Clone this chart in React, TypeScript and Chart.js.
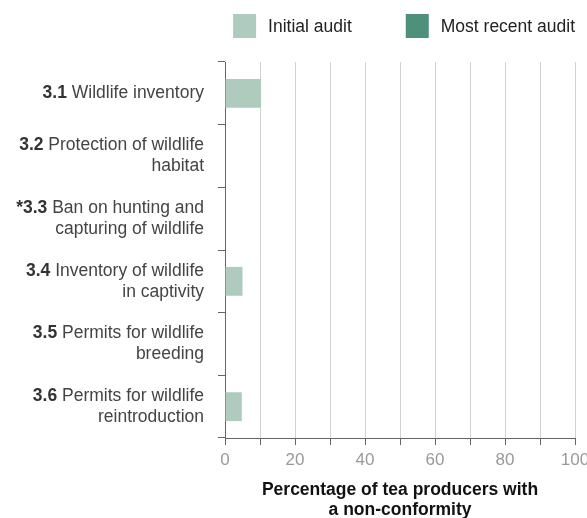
import { useEffect, useRef } from 'react';
import { Chart, registerables } from 'chart.js';

Chart.register(...registerables);

// ---- Data ----
const codes = ['3.1', '3.2', '*3.3', '3.4', '3.5', '3.6'];
const labelLines = [
  ['Wildlife inventory'],
  ['Protection of wildlife', 'habitat'],
  ['Ban on hunting and', 'capturing of wildlife'],
  ['Inventory of wildlife', 'in captivity'],
  ['Permits for wildlife', 'breeding'],
  ['Permits for wildlife', 'reintroduction'],
];
const initialAudit = [10.3, 0, 0, 5.0, 0, 4.8];
const recentAudit: (number | null)[] = [null, null, null, null, null, null];
const seriesNames = ['Initial audit', 'Most recent audit'];
const seriesColors = ['#aecbbe', '#4d917a'];
const xMin = 0;
const xMax = 100;
const xStep = 10;
const xLabelEvery = 20;
const xTitle = ['Percentage of tea producers with', 'a non-conformity'];

const FAMILY = "'Liberation Sans', Arial, sans-serif";

const yLabelPlugin = {
  id: 'yLabels',
  afterDraw(chart: any) {
    const { ctx } = chart;
    const y = chart.scales.y;
    const right = y.right - 7 - 14;
    const size = 17.5;
    const lh = 21;
    ctx.save();
    ctx.textBaseline = 'middle';
    ctx.textAlign = 'left';
    codes.forEach((code, i) => {
      const lines = labelLines[i];
      const center = y.getPixelForValue(i);
      const top = center - ((lines.length - 1) * lh) / 2;
      lines.forEach((line, j) => {
        const ly = top + j * lh;
        ctx.font = `normal ${size}px ${FAMILY}`;
        const wr = ctx.measureText(line).width;
        if (j === 0) {
          const sp = ctx.measureText(' ').width;
          ctx.font = `bold ${size}px ${FAMILY}`;
          const wb = ctx.measureText(code).width;
          const start = right - wr - sp - wb;
          ctx.fillStyle = '#333333';
          ctx.fillText(code, start, ly);
          ctx.font = `normal ${size}px ${FAMILY}`;
          ctx.fillStyle = '#444444';
          ctx.fillText(line, start + wb + sp, ly);
        } else {
          ctx.fillStyle = '#444444';
          ctx.fillText(line, right - wr, ly);
        }
      });
    });
    ctx.restore();
  },
};

const legendPlugin = {
  id: 'customLegend',
  afterDraw(chart: any) {
    const { ctx, chartArea } = chart;
    const size = 17.5;
    const boxW = 23;
    const boxH = 24;
    const gapText = 12;
    const gapItems = 54;
    const boxTop = 14;
    ctx.save();
    ctx.font = `normal ${size}px ${FAMILY}`;
    ctx.textBaseline = 'middle';
    ctx.textAlign = 'left';
    const widths = seriesNames.map((n) => boxW + gapText + ctx.measureText(n).width);
    let x = chartArea.right - widths.reduce((a, b) => a + b, 0) - gapItems * (widths.length - 1);
    seriesNames.forEach((name, i) => {
      ctx.fillStyle = seriesColors[i];
      ctx.fillRect(x, boxTop, boxW, boxH);
      ctx.fillStyle = '#222222';
      ctx.fillText(name, x + boxW + gapText, boxTop + boxH / 2 + 1);
      x += widths[i] + gapItems;
    });
    ctx.restore();
  },
};

export default function App() {
  const ref = useRef<HTMLCanvasElement | null>(null);

  useEffect(() => {
    document.body.style.overflow = 'hidden';
    if (!ref.current) return;
    const chart = new Chart(ref.current, {
      type: 'bar',
      data: {
        labels: codes,
        datasets: [
          {
            label: seriesNames[0],
            data: initialAudit,
            backgroundColor: seriesColors[0],
            borderWidth: 0,
          },
          {
            label: seriesNames[1],
            data: recentAudit,
            backgroundColor: seriesColors[1],
            borderWidth: 0,
          },
        ],
      },
      options: {
        indexAxis: 'y',
        animation: false,
        responsive: true,
        maintainAspectRatio: false,
        skipNull: true,
        datasets: { bar: { barPercentage: 0.46, categoryPercentage: 1 } },
        layout: { padding: { top: 62, right: 12, left: 0, bottom: 0 } },
        plugins: {
          legend: { display: false },
          tooltip: { enabled: false },
        },
        scales: {
          y: {
            type: 'category',
            offset: true,
            grid: {
              offset: true,
              drawOnChartArea: false,
              drawTicks: true,
              tickLength: 7,
              tickColor: '#666666',
            },
            border: { display: true, color: '#666666', width: 1 },
            ticks: { callback: () => '', padding: 0 },
            afterFit: (scale: any) => {
              scale.width = 225;
            },
          },
          x: {
            type: 'linear',
            position: 'bottom',
            min: xMin,
            max: xMax,
            grid: {
              color: '#d2d2d2',
              tickColor: '#666666',
              tickLength: 7,
              drawTicks: true,
            },
            border: { display: true, color: '#666666', width: 1 },
            ticks: {
              stepSize: xStep,
              autoSkip: false,
              maxRotation: 0,
              padding: 5,
              color: '#999999',
              font: { family: FAMILY, size: 17 },
              callback: (v: any) => (Number(v) % xLabelEvery === 0 ? String(v) : ''),
            },
            title: {
              display: true,
              text: xTitle,
              color: '#111111',
              font: { family: FAMILY, size: 17.5, weight: 'bold', lineHeight: 1.15 },
              padding: { top: 4, bottom: 0 },
            },
            afterFit: (scale: any) => {
              scale.height = 82;
              scale.paddingLeft = 0;
              scale.paddingRight = 0;
            },
          },
        },
      },
      plugins: [yLabelPlugin, legendPlugin],
    } as any);
    return () => chart.destroy();
  }, []);

  return (
    <div style={{ position: 'absolute', left: 0, top: 0, width: 587, height: 520 }}>
      <canvas ref={ref} />
    </div>
  );
}
